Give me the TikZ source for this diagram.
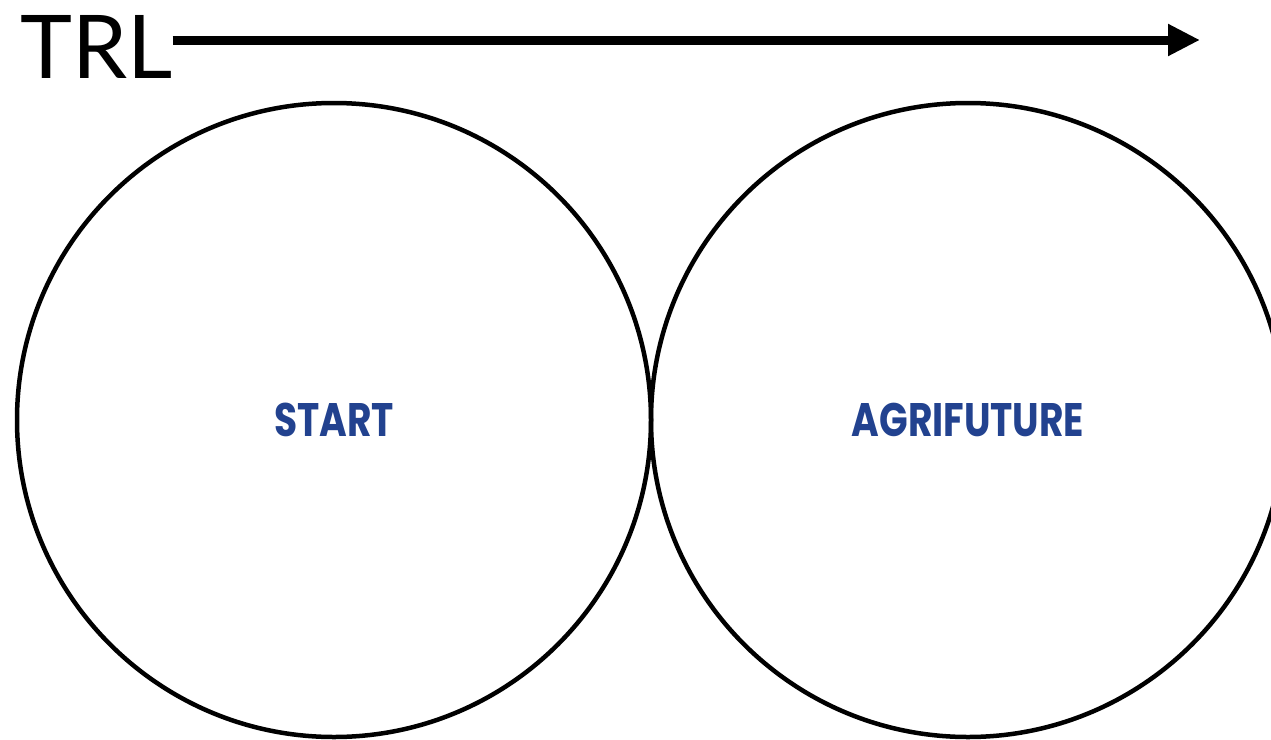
\documentclass[tikz,border=0pt]{standalone}
\usepackage{fontspec}
\setmainfont{Lato}
\newfontfamily\lblfont{Poppins}
\usetikzlibrary{arrows.meta,positioning}
\definecolor{agriblue}{HTML}{22428F}
\tikzset{
  ring/.style ={circle, draw=black, line width=4.5pt, minimum size=634pt, inner sep=0pt},
  lbl/.style  ={font=\lblfont\bfseries\fontsize{47}{47}\selectfont, text=agriblue,
                xscale=0.8, transform shape},
  trl/.style  ={font=\fontsize{88}{88}\selectfont, inner sep=0pt},
  ar/.style   ={-{Triangle[length=32pt,width=30pt]}, line width=9pt, draw=black},
}
\begin{document}
\begin{tikzpicture}[x=1pt,y=-1pt]
\useasboundingbox (0,0) rectangle (1271,739);
\node[ring] (start) at (334,420) {};
\node[ring] (agri) at (968,420) {};
\node[lbl] (startlbl) at (start.center) {START};
\node[lbl] (agrilbl) at (agri.center) {AGRIFUTURE};
\node[trl, anchor=base west] (trl) at (20,78) {TRL};
\coordinate (trlend) at (1200,40);
\draw[ar] (trl.east |- trlend) -- (trlend);
\end{tikzpicture}
\end{document}
